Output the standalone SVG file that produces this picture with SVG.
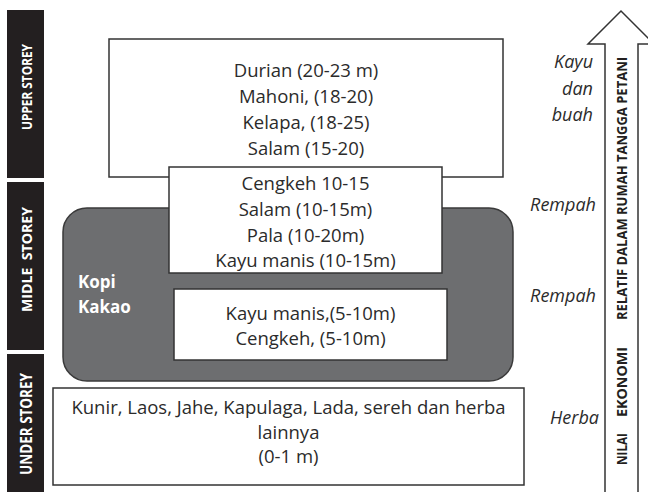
<svg xmlns="http://www.w3.org/2000/svg" width="648" height="492" viewBox="0 0 648 492">
  <style>
    .bar { fill: #231f20; }
    .bartxt { font-family: "Open Sans", "Liberation Sans", sans-serif; font-weight: bold; fill: #ffffff; text-anchor: middle; }
    .box { fill: #ffffff; stroke: #333333; stroke-width: 1.5; }
    .txt { font-family: "Open Sans", "Liberation Sans", sans-serif; font-size: 18.5px; fill: #2b2b2b; text-anchor: middle; }
    .lbl { font-family: "Open Sans", "Liberation Sans", sans-serif; font-size: 18px; font-style: italic; fill: #2b2b2b; text-anchor: end; }
    .arrtxt { font-family: "Open Sans", "Liberation Sans", sans-serif; font-weight: bold; font-size: 14px; fill: #231f20; text-anchor: middle; }
  </style>
  <rect width="648" height="492" fill="#ffffff"/>

  <g id="storey-labels">
    <g id="upper-storey">
      <rect class="bar" x="7" y="10" width="37" height="168"/>
      <text class="bartxt" font-size="15" transform="translate(31.5,87) rotate(-90)" textLength="86" lengthAdjust="spacingAndGlyphs">UPPER STOREY</text>
    </g>
    <g id="midle-storey">
      <rect class="bar" x="7" y="182" width="37" height="168"/>
      <text class="bartxt" font-size="15" transform="translate(31.5,259.5) rotate(-90)" textLength="105" lengthAdjust="spacingAndGlyphs" xml:space="preserve">MIDLE  STOREY</text>
    </g>
    <g id="under-storey">
      <rect class="bar" x="7" y="354" width="37" height="140"/>
      <text class="bartxt" font-size="15.5" transform="translate(32,424) rotate(-90)" textLength="102" lengthAdjust="spacingAndGlyphs">UNDER STOREY</text>
    </g>
  </g>

  <g id="kopi-kakao">
    <rect x="63" y="208" width="450" height="173" rx="24" ry="24" fill="#6d6e70" stroke="#3a3a3a" stroke-width="1.5"/>
    <text x="78" y="288" font-family="Open Sans, Liberation Sans, sans-serif" font-size="17" font-weight="bold" fill="#ffffff">Kopi</text>
    <text x="78" y="313" font-family="Open Sans, Liberation Sans, sans-serif" font-size="17" font-weight="bold" fill="#ffffff">Kakao</text>
  </g>

  <g id="upper-box">
    <rect class="box" x="109" y="39" width="394" height="138"/>
    <text class="txt" x="306" y="77">Durian (20-23 m)</text>
    <text class="txt" x="306" y="103">Mahoni, (18-20)</text>
    <text class="txt" x="306" y="129">Kelapa, (18-25)</text>
    <text class="txt" x="306" y="155">Salam (15-20)</text>
  </g>

  <g id="middle-upper-box">
    <rect class="box" x="169" y="167" width="273" height="106"/>
    <text class="txt" x="305.5" y="190">Cengkeh 10-15</text>
    <text class="txt" x="305.5" y="216">Salam (10-15m)</text>
    <text class="txt" x="305.5" y="241.5">Pala (10-20m)</text>
    <text class="txt" x="305.5" y="266.5">Kayu manis (10-15m)</text>
  </g>

  <g id="middle-lower-box">
    <rect class="box" x="174" y="289" width="273" height="71"/>
    <text class="txt" x="310.5" y="320">Kayu manis,(5-10m)</text>
    <text class="txt" x="310.5" y="345">Cengkeh, (5-10m)</text>
  </g>

  <g id="under-box">
    <rect class="box" x="53" y="388" width="471" height="97"/>
    <text class="txt" x="288.5" y="414">Kunir, Laos, Jahe, Kapulaga, Lada, sereh dan herba</text>
    <text class="txt" x="288.5" y="439">lainnya</text>
    <text class="txt" x="288.5" y="463">(0-1 m)</text>
  </g>

  <g id="value-labels">
    <text class="lbl" x="593" y="68">Kayu</text>
    <text class="lbl" x="593" y="95">dan</text>
    <text class="lbl" x="593" y="121">buah</text>
    <text class="lbl" x="596" y="211">Rempah</text>
    <text class="lbl" x="596" y="302">Rempah</text>
    <text class="lbl" x="599" y="424">Herba</text>
  </g>

  <g id="connectors">
    <g id="value-arrow">
      <path d="M605,495 L605,44 L588,44 L621,11 L654,44 L638,44 L638,495" fill="#ffffff" stroke="#333333" stroke-width="1.5" stroke-linejoin="miter"/>
      <text class="arrtxt" transform="translate(626.5,449) rotate(-90)" textLength="32" lengthAdjust="spacingAndGlyphs">NILAI</text>
      <text class="arrtxt" transform="translate(626.5,382) rotate(-90)" textLength="70" lengthAdjust="spacingAndGlyphs">EKONOMI</text>
      <text class="arrtxt" transform="translate(626.5,188.5) rotate(-90)" textLength="263" lengthAdjust="spacingAndGlyphs">RELATIF DALAM RUMAH TANGGA PETANI</text>
    </g>
  </g>
</svg>
